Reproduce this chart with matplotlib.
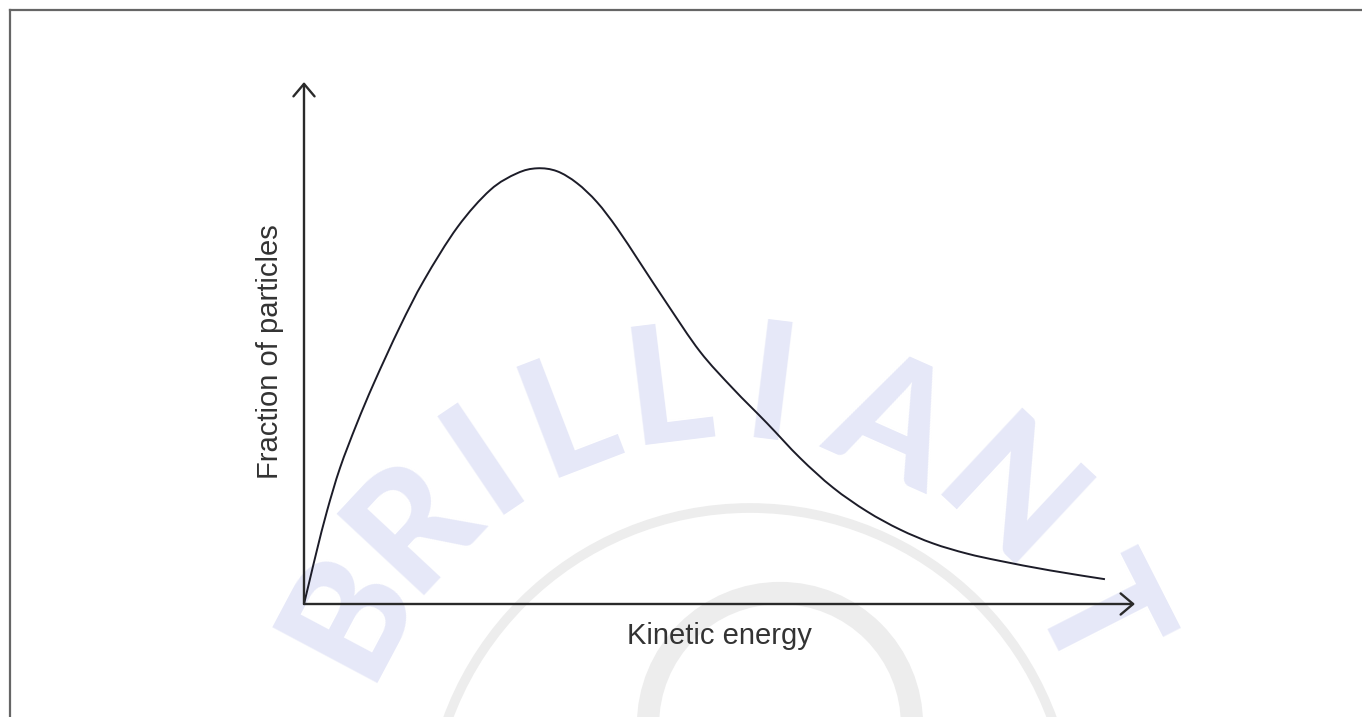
import numpy as np
import matplotlib
matplotlib.use("Agg")
from matplotlib import pyplot as plt
from matplotlib.lines import Line2D
from matplotlib.patches import Circle, PathPatch
from matplotlib.path import Path

# curve (arbitrary units, axes run 0..10)
energy = [0.0, 0.072, 0.156, 0.277, 0.433, 0.634, 0.842, 1.153, 1.446, 1.848,
          2.241, 2.563, 2.804, 3.045, 3.285, 3.526, 3.767, 4.043, 4.368, 4.765,
          5.162, 5.572, 5.969, 6.366, 6.775, 7.172, 7.569, 7.978, 8.375, 8.977,
          9.639]
fraction = [0.0, 0.479, 1.034, 1.782, 2.605, 3.448, 4.234, 5.307, 6.207, 7.222,
            7.931, 8.251, 8.347, 8.291, 8.063, 7.699, 7.201, 6.540, 5.755, 4.837,
            4.128, 3.464, 2.799, 2.230, 1.774, 1.427, 1.161, 0.966, 0.826, 0.644,
            0.475]

x_label = "Kinetic energy"
y_label = "Fraction of particles"
watermark = "BRILLIANT"


def smooth_path(xs, ys):
    '''
    Catmull-Rom style bezier path through the given points.
    '''
    p = np.column_stack([xs, ys])
    p = np.vstack([p[0], p, p[-1]])
    verts = [p[1]]
    codes = [Path.MOVETO]
    for i in range(1, len(p) - 2):
        c1 = p[i] + (p[i + 1] - p[i - 1]) / 6
        c2 = p[i + 1] - (p[i + 2] - p[i]) / 6
        verts += [c1, c2, p[i + 1]]
        codes += [Path.CURVE4] * 3
    return Path(verts, codes)


plt.rcParams['font.family'] = ['Liberation Sans', 'DejaVu Sans']

fig = plt.figure(figsize=(13.62, 7.17), dpi=100)

# background watermark layer (pixel coords)
bg = fig.add_axes([0, 0, 1, 1])
bg.set_xlim(0, 1362)
bg.set_ylim(717, 0)
bg.axis("off")

bg.add_patch(Circle((750, 830), 322, fill=False, lw=7, ec="#ededed"))
bg.add_patch(Circle((780, 725), 132, fill=False, lw=16, ec="#ededed"))

angles = [-62, -47, -34, -21, -7, 7, 24, 43, 63]
cx, cy, r = 720, 810, 420
for ch, a in zip(watermark, angles):
    t = np.radians(a)
    bg.text(cx + r * np.sin(t), cy - r * np.cos(t), ch, rotation=-a,
            rotation_mode="anchor", ha="center", va="center",
            fontsize=118, fontweight="black", family=["Lato", "DejaVu Sans"],
            color="#e6e8f8")

# frame lines (left and top only)
fig.add_artist(Line2D([0.0073, 0.0073], [0, 0.9854], color="#666666", lw=1.6))
fig.add_artist(Line2D([0.0073, 1.0], [0.9854, 0.9854], color="#666666", lw=1.6))

# main axes
ax = fig.add_axes([0.2232, 0.1576, 0.6101, 0.728])
ax.set_xlim(0, 10)
ax.set_ylim(0, 10)
ax.axis("off")
ax.patch.set_alpha(0)

arrow = dict(arrowstyle="->,head_length=0.45,head_width=0.38", color="#2a2a2a",
             lw=1.7, shrinkA=0, shrinkB=0, mutation_scale=20)
ax.annotate("", xy=(10, 0), xytext=(0, 0), arrowprops=arrow, annotation_clip=False)
ax.annotate("", xy=(0, 10), xytext=(0, 0), arrowprops=arrow, annotation_clip=False)

ax.add_patch(PathPatch(smooth_path(energy, fraction), fill=False,
                       ec="#1c1c28", lw=1.4, clip_on=False))

ax.text(5.0, -0.61, x_label, ha="center", va="center", fontsize=21, color="#333333")
ax.text(-0.41, 4.83, y_label, ha="center", va="center", rotation=90,
        fontsize=21, color="#333333")

fig.savefig("out.png", dpi=100)
